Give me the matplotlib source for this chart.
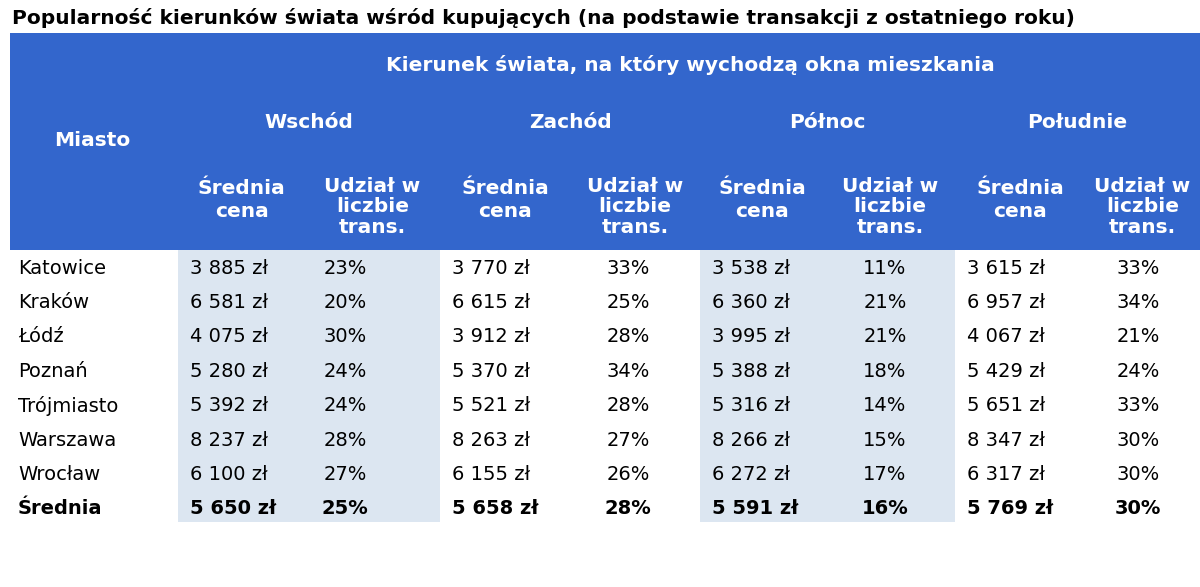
import matplotlib.pyplot as plt
from matplotlib.patches import Rectangle

title = "Popularność kierunków świata wśród kupujących (na podstawie transakcji z ostatniego roku)"
super_header = "Kierunek świata, na który wychodzą okna mieszkania"
directions = ["Wschód", "Zachód", "Północ", "Południe"]
cities = ["Katowice", "Kraków", "Łódź", "Poznań", "Trójmiasto", "Warszawa", "Wrocław"]
prices = [
    ["3 885 zł", "3 770 zł", "3 538 zł", "3 615 zł"],
    ["6 581 zł", "6 615 zł", "6 360 zł", "6 957 zł"],
    ["4 075 zł", "3 912 zł", "3 995 zł", "4 067 zł"],
    ["5 280 zł", "5 370 zł", "5 388 zł", "5 429 zł"],
    ["5 392 zł", "5 521 zł", "5 316 zł", "5 651 zł"],
    ["8 237 zł", "8 263 zł", "8 266 zł", "8 347 zł"],
    ["6 100 zł", "6 155 zł", "6 272 zł", "6 317 zł"],
]
shares = [
    ["23%", "33%", "11%", "33%"],
    ["20%", "25%", "21%", "34%"],
    ["30%", "28%", "21%", "21%"],
    ["24%", "34%", "18%", "24%"],
    ["24%", "28%", "14%", "33%"],
    ["28%", "27%", "15%", "30%"],
    ["27%", "26%", "17%", "30%"],
]
avg_label = "Średnia"
avg_prices = ["5 650 zł", "5 658 zł", "5 591 zł", "5 769 zł"]
avg_shares = ["25%", "28%", "16%", "30%"]

fig = plt.figure(figsize=(12, 5.87), dpi=100)
ax = fig.add_axes([0, 0, 1, 1])
ax.set_xlim(0, 1200); ax.set_ylim(587, 0); ax.axis("off")

blue = "#3366cc"; shade = "#dce6f1"
group_x = [178, 440, 700, 955, 1200]
mid_x = [305, 570, 825, 1085]
share_x = [345, 628, 885, 1138]
ax.text(12, 18, title, fontsize=14.5, fontweight="bold", va="center", ha="left")
ax.add_patch(Rectangle((10, 33), 1190, 217, color=blue, lw=0))
for g in (0, 2):
    ax.add_patch(Rectangle((group_x[g], 250), group_x[g+1]-group_x[g], 272, color=shade, lw=0))

hk = dict(color="white", fontweight="bold", fontsize=14.5, ha="center", va="center")
ax.text(690, 65, super_header, **hk)
ax.text(92, 141, "Miasto", **hk)
for g, d in enumerate(directions):
    ax.text((group_x[g] + group_x[g+1]) / 2, 123, d, **hk)
    ax.text((group_x[g] + mid_x[g]) / 2, 200, "Średnia\ncena", linespacing=1.25, **hk)
    ax.text((mid_x[g] + group_x[g+1]) / 2, 207, "Udział w\nliczbie\ntrans.", linespacing=1.1, **hk)

row_h = 34.4
def draw_row(i, name, pr, sh, bold=False):
    y = 268 + i * row_h
    kw = dict(fontsize=14, va="center", fontweight="bold" if bold else "normal")
    ax.text(18, y, name, ha="left", **kw)
    for g in range(4):
        ax.text(group_x[g] + 12, y, pr[g], ha="left", **kw)
        ax.text(share_x[g], y, sh[g], ha="center", **kw)

for i, c in enumerate(cities):
    draw_row(i, c, prices[i], shares[i])
draw_row(len(cities), avg_label, avg_prices, avg_shares, bold=True)

fig.savefig("out.png", dpi=100)
